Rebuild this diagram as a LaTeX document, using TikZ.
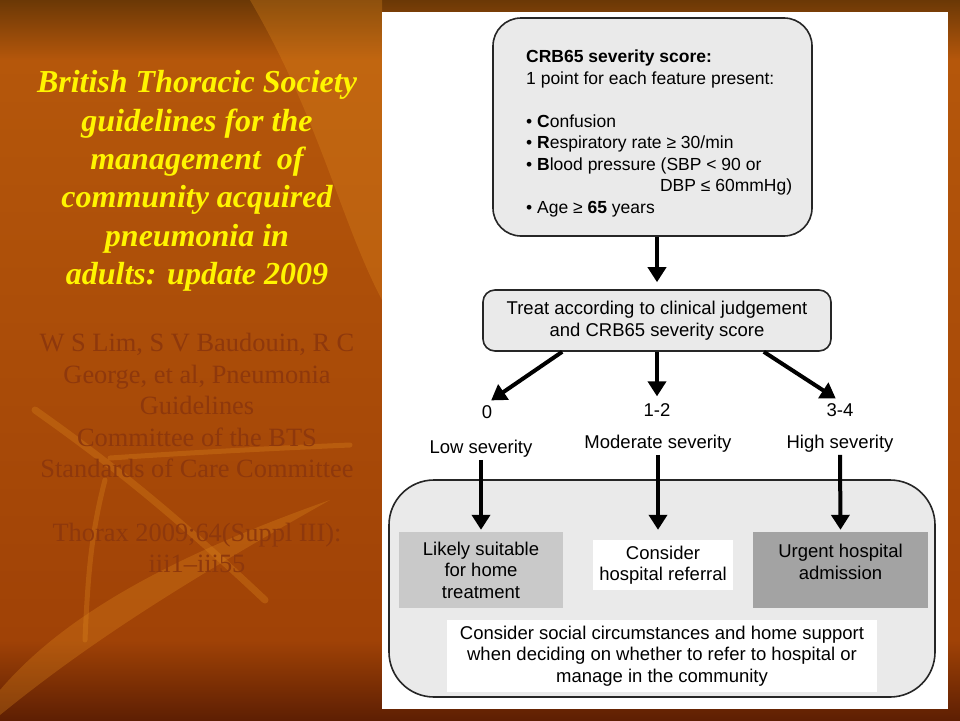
\documentclass[tikz,border=0pt]{standalone}
\usepackage{fontspec}
\setmainfont{Liberation Serif}
\newfontfamily\arialfont{Liberation Sans}
\usetikzlibrary{arrows.meta,positioning}

\definecolor{bgtop}{HTML}{6B3806}
\definecolor{bgmid}{HTML}{B5570B}
\definecolor{bglow}{HTML}{A04206}
\definecolor{bgbot}{HTML}{5E1F03}
\definecolor{swoosh}{HTML}{E08A1E}
\definecolor{citebrown}{HTML}{8E380C}
\definecolor{titleyellow}{HTML}{FFF500}
\definecolor{boxgray}{HTML}{EAEAEA}
\definecolor{homegray}{HTML}{C9C9C9}
\definecolor{urgentgray}{HTML}{A3A3A3}

\begin{document}
\begin{tikzpicture}[x=1pt,y=-1pt,>={Triangle[length=15pt,width=18pt]}]
  \tikzstyle{flowbox}=[draw=black!85,line width=1.6pt,fill=boxgray,inner sep=0pt,
    align=center,font=\arialfont\fontsize{18.5}{21.5}\selectfont]
  \tikzstyle{plainbox}=[inner sep=0pt,align=center,font=\arialfont\fontsize{18.5}{21.5}\selectfont]
  \tikzstyle{lbl}=[inner sep=2pt,font=\arialfont\fontsize{18.5}{21.5}\selectfont]
  \tikzstyle{flowarrow}=[->,line width=4pt]
  \useasboundingbox (0,0) rectangle (960,720);

  % slide background
  \shade[top color=bgtop,bottom color=bgmid] (0,0) rectangle (960,60);
  \shade[top color=bgmid,bottom color=bglow] (0,60) rectangle (960,640);
  \shade[top color=bglow,bottom color=bgbot] (0,640) rectangle (960,720);
  \begin{scope}[swoosh,opacity=0.3,line cap=round]
    \fill[opacity=0.3] (0,690) .. controls (60,620) and (160,560) .. (330,500) .. controls (170,590) and (80,650) .. (0,715) -- cycle;
    \draw[line width=7pt] (35,410) .. controls (120,470) and (180,520) .. (265,600);
    \draw[line width=5pt] (110,458) .. controls (200,452) and (280,448) .. (350,445);
    \draw[line width=5pt] (105,480) .. controls (92,530) and (88,570) .. (85,640);
    \fill[opacity=0.3] (250,0) .. controls (320,120) and (340,220) .. (382,300) -- (382,0) -- cycle;
  \end{scope}

  % left column text
  \node[align=center,text=titleyellow,font=\fontsize{32}{38.4}\selectfont\bfseries\itshape] (title) at (197,181)
    {British Thoracic Society\\guidelines for the\\management~ of\\community acquired\\pneumonia in\\adults: update 2009};
  \node[align=center,text=citebrown,font=\fontsize{26.4}{31.6}\selectfont] (cite) at (197,453)
    {W S Lim, S V Baudouin, R C\\George, et al, Pneumonia\\Guidelines\\Committee of the BTS\\Standards of Care Committee\\ \mbox{}\\Thorax 2009;64(Suppl III):\\iii1--iii55};

  % white panel
  \fill[white] (382,12) rectangle (948,709);

  % CRB65 box
  \node[flowbox,rounded corners=28pt,minimum width=319pt,minimum height=218pt] (crb) at (652.5,127) {};
  \node[plainbox,anchor=north west,align=flush left,text width=266pt,
    font=\arialfont\fontsize{17.5}{21.5}\selectfont] (crbtext) at (526,50)
    {\textbf{CRB65 severity score:}\\
     1 point for each feature present:\\
     \mbox{}\\
     • \textbf{C}onfusion\\
     • \textbf{R}espiratory rate ≥ 30/min\\
     • \textbf{B}lood pressure (SBP < 90 or\\
     \hskip 0pt plus 1filll DBP ≤ 60mmHg)\\
     • Age ≥ \textbf{65} years};

  \node[flowbox,rounded corners=12pt,minimum width=348pt,minimum height=61pt] (treat) at (657,320.5)
    {Treat according to clinical judgement\\and CRB65 severity score};
  \coordinate (treatL) at ([xshift=80pt]treat.south west);
  \coordinate (treatR) at ([xshift=-68pt]treat.south east);

  % scores and severity
  \node[lbl] (score0) at (487,412) {0};
  \node[lbl] (score12) at (657,410) {1-2};
  \node[lbl] (score34) at (840,410) {3-4};
  \node[lbl] (low) at (481,449) {Low severity};
  \node[lbl] (moderate) at (658,444) {Moderate severity};
  \node[lbl] (high) at (840,444) {High severity};

  % outcome area
  \node[flowbox,rounded corners=45pt,minimum width=546pt,minimum height=217pt] (outcome) at (662,588.5) {};
  \node[plainbox,fill=homegray,minimum width=164pt,minimum height=76pt] (home) at (481,570)
    {Likely suitable\\for home\\treatment};
  \node[plainbox,fill=white,minimum width=140pt,minimum height=50pt] (refer) at (663,565)
    {Consider\\hospital referral};
  \node[plainbox,fill=urgentgray,minimum width=175pt,minimum height=76pt,
    label={[plainbox,yshift=8pt]center:Urgent hospital\\admission}] (urgent) at (840.5,570) {};
  \node[plainbox,fill=white,minimum width=430pt,minimum height=72pt] (social) at (662,656)
    {Consider social circumstances and home support\\when deciding on whether to refer to hospital or\\manage in the community};

  % connectors
  \draw[flowarrow,shorten >=7pt] (crb.south -| treat.north) -- (treat.north);
  \draw[flowarrow,shorten >=5pt] (treatL) -- (score0.north);
  \draw[flowarrow,shorten >=5pt] (treat.south) -- (score12.north);
  \draw[flowarrow,shorten >=5pt] (treatR) -- (score34.north);
  \draw[flowarrow,shorten >=2pt] (low.south) -- (home.north);
  \draw[flowarrow,shorten >=10pt] (moderate.south) -- (moderate.south |- refer.north);
  \draw[flowarrow,shorten >=2pt] (high.south) -- (urgent.north);
\end{tikzpicture}
\end{document}
